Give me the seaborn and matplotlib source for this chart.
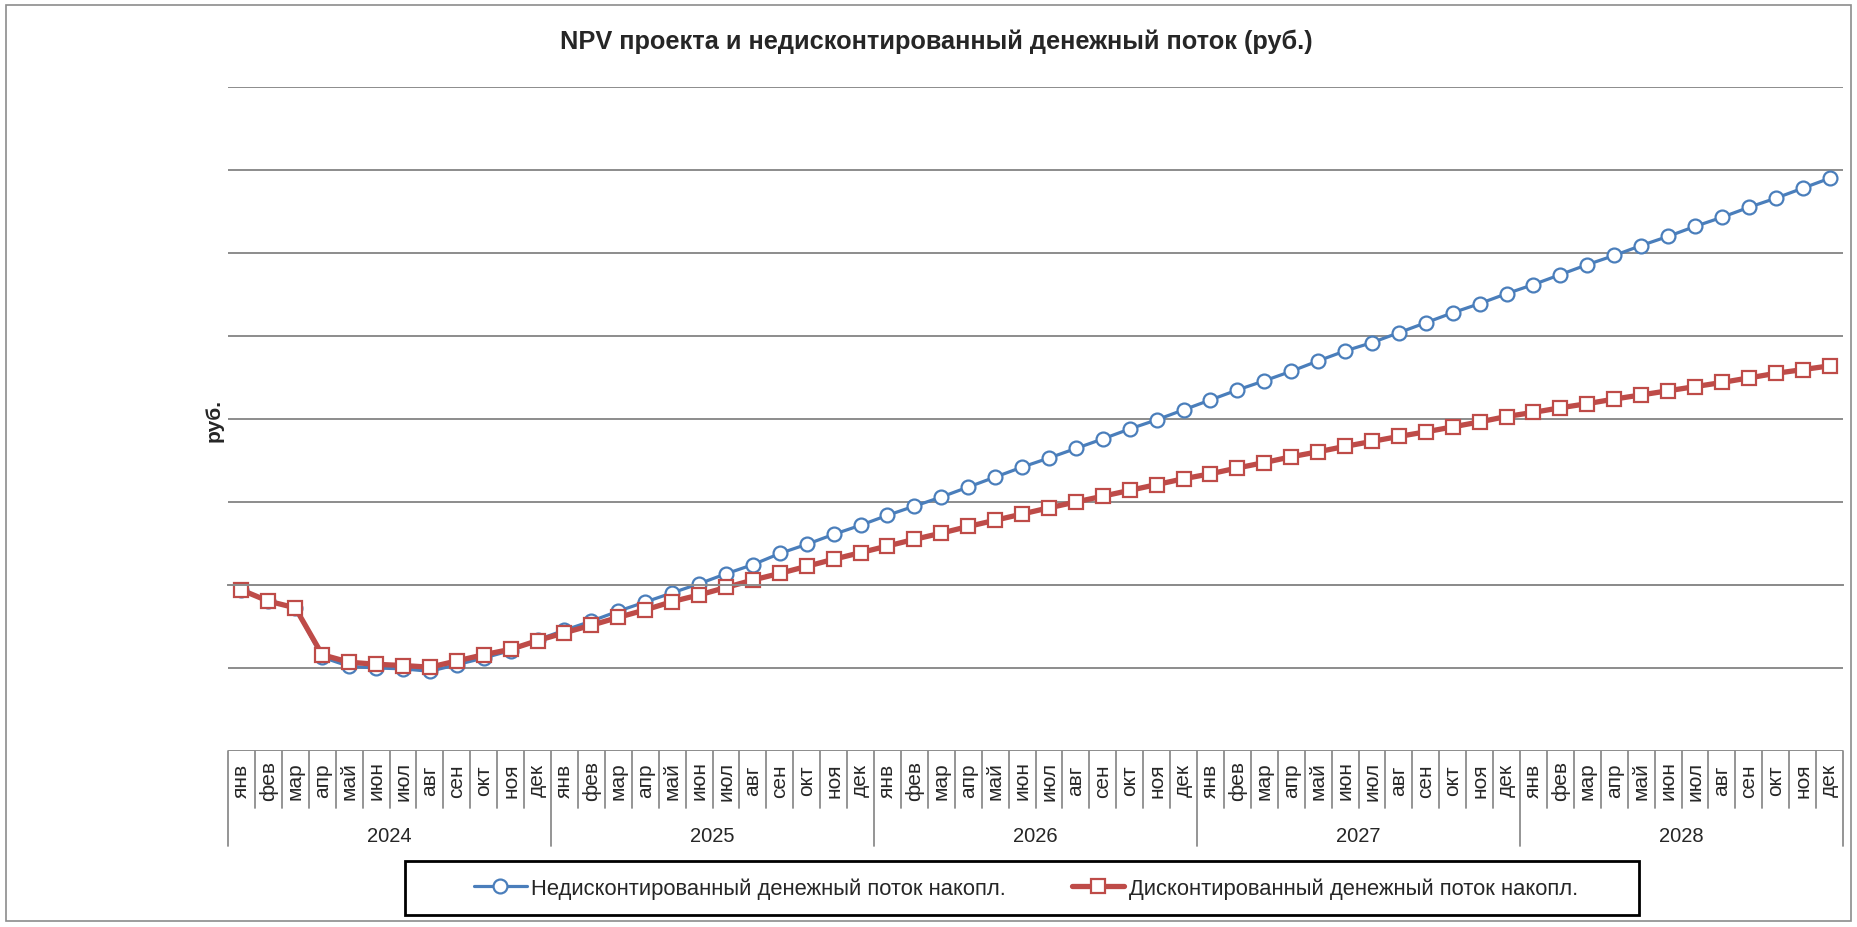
import numpy as np
import pandas as pd
import matplotlib
matplotlib.use('Agg')
import matplotlib.pyplot as plt
from matplotlib.patches import Rectangle
import seaborn as sns

# Categories: five years by month
years = ['2024', '2025', '2026', '2027', '2028']
months = ['янв', 'фев', 'мар', 'апр', 'май', 'июн', 'июл', 'авг', 'сен', 'окт', 'ноя', 'дек']

# Cumulative flows (the chart has no y tick values,
# so the values are in gridline steps)
undiscounted = [-0.06, -0.195, -0.275, -0.87, -0.98, -1.00, -1.01, -1.04, -0.96, -0.88,
                -0.79, -0.66, -0.545, -0.435, -0.315, -0.205, -0.095, 0.015, 0.135, 0.245,
                0.38, 0.49, 0.61, 0.72, 0.84, 0.95, 1.06, 1.18, 1.30, 1.42,
                1.53, 1.645, 1.76, 1.88, 1.99, 2.11, 2.23, 2.35, 2.46, 2.575,
                2.70, 2.82, 2.92, 3.04, 3.16, 3.28, 3.39, 3.51, 3.62, 3.74,
                3.86, 3.97, 4.09, 4.20, 4.32, 4.43, 4.55, 4.66, 4.78, 4.90]
discounted = [-0.06, -0.195, -0.275, -0.84, -0.93, -0.955, -0.97, -0.99, -0.915, -0.84,
              -0.775, -0.67, -0.575, -0.485, -0.39, -0.30, -0.20, -0.12, -0.03, 0.06,
              0.14, 0.225, 0.31, 0.39, 0.47, 0.55, 0.625, 0.705, 0.78, 0.855,
              0.93, 1.00, 1.07, 1.14, 1.21, 1.28, 1.34, 1.41, 1.475, 1.545,
              1.605, 1.67, 1.73, 1.79, 1.845, 1.905, 1.965, 2.03, 2.08, 2.135,
              2.185, 2.24, 2.29, 2.34, 2.39, 2.44, 2.495, 2.55, 2.595, 2.64]
series_names = ['Недисконтированный денежный поток накопл.',
                'Дисконтированный денежный поток накопл.']
title = 'NPV проекта и недисконтированный денежный поток (руб.)'
y_label = 'руб.'

sns.set_style('white')
plt.rcParams['font.family'] = ['Liberation Sans', 'DejaVu Sans']

blue = '#4A7EBB'
red = '#BE4B48'
gray = '#8c8c8c'

W, H = 1857, 928
fig = plt.figure(figsize=(W / 100, H / 100), dpi=100)
# plot area in pixels: left 228, right 1843, top 88, bottom 752
ax = fig.add_axes([228 / W, 1 - 752 / H, (1843 - 228) / W, (752 - 88) / H])

labels = [m for y in years for m in months]
df = pd.DataFrame({'idx': np.arange(len(labels)),
                   'undisc': undiscounted,
                   'disc': discounted})

sns.lineplot(data=df, x='idx', y='undisc', ax=ax, color=blue, lw=2.3,
             marker='o', ms=10, mfc='white', mec=blue, mew=1.6,
             label=series_names[0], legend=False)
sns.lineplot(data=df, x='idx', y='disc', ax=ax, color=red, lw=3.8,
             marker='s', ms=10, mfc='white', mec=red, mew=1.6,
             label=series_names[1], legend=False)

# y axis: gridlines only
ax.set_ylim(-2, 6)
ax.set_yticks(range(-2, 7))
ax.yaxis.grid(True, color=gray, lw=1.4)
ax.tick_params(axis='y', length=0, labelleft=False)
ax.set_axisbelow(True)
ax.set_ylabel('')
ax.set_xlabel('')

# x axis crosses at zero, tick marks between categories
ax.set_xlim(-0.5, len(labels) - 0.5)
ax.set_xticks(np.arange(-0.5, len(labels), 1))
ax.tick_params(axis='x', direction='out', length=6, width=1.3, color=gray,
               labelbottom=False)
ax.xaxis.grid(False)
for s in ['left', 'right', 'top']:
    ax.spines[s].set_visible(False)
ax.spines['bottom'].set_position(('data', 0))
ax.spines['bottom'].set_color(gray)
ax.spines['bottom'].set_linewidth(1.4)

# category table below the plot
tr = ax.get_xaxis_transform()
ph = 752 - 88


def ay(py):
    return (752 - py) / ph


for k in range(len(labels) + 1):
    yb = ay(847) if k % 12 == 0 else ay(809)
    ax.plot([k - 0.5, k - 0.5], [0, yb], transform=tr, color=gray, lw=1.3,
            clip_on=False)
for i, m in enumerate(labels):
    ax.text(i, ay(781), m, rotation=90, ha='center', va='center',
            transform=tr, fontsize=15)
for j, y in enumerate(years):
    ax.text(12 * j + 5.5, ay(837), y, ha='center', va='center',
            transform=tr, fontsize=14.5)

fig.text(214 / W, 1 - 421 / H, y_label, rotation=90, fontweight='bold',
         fontsize=15, ha='center', va='center')
fig.text(0.504, 1 - 42 / H, title, fontsize=18.3, fontweight='bold',
         ha='center', va='center')

# outer frame and legend frame
fig.patches.append(Rectangle((6 / W, 6 / H), (W - 12) / W, (H - 12) / H,
                             transform=fig.transFigure, fill=False,
                             ec=gray, lw=1.2))
fig.patches.append(Rectangle((405 / W, 1 - 916 / H), (1639 - 405) / W, 54 / H,
                             transform=fig.transFigure, fill=False,
                             ec='black', lw=2))

handles, lbls = ax.get_legend_handles_labels()
fig.legend(handles, lbls, loc='center', bbox_to_anchor=(1026 / W, 1 - 889 / H),
           ncol=2, frameon=False, fontsize=15.8, handlelength=2.4,
           handletextpad=0.2, columnspacing=3)

fig.savefig('out.png', dpi=100)
